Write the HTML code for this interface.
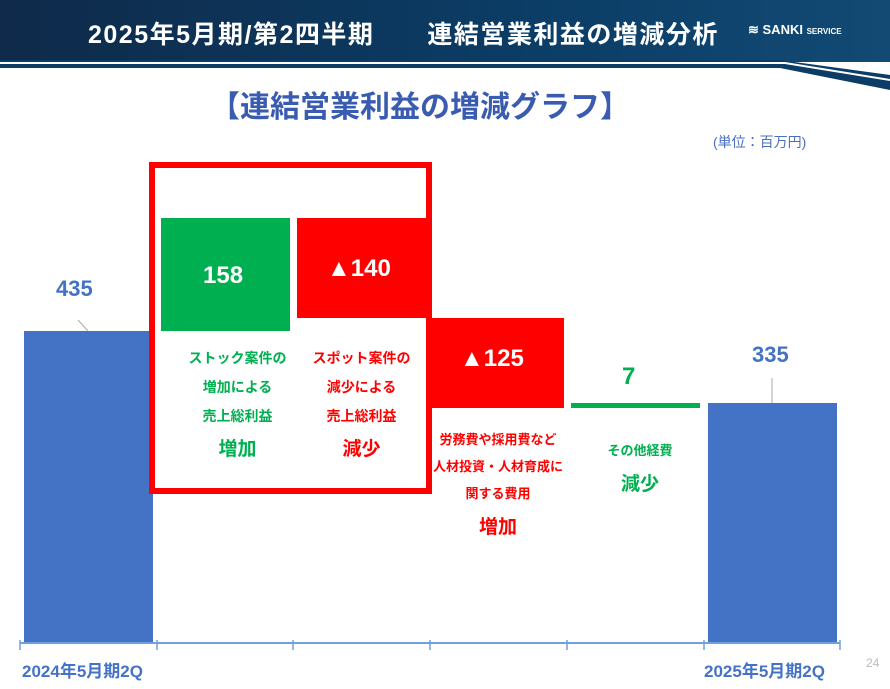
<!DOCTYPE html><html><head><meta charset="utf-8"><style>
body{margin:0;width:890px;height:689px;background:#fff;position:relative;overflow:hidden;font-family:"Liberation Sans","Noto Sans CJK JP",sans-serif;font-weight:bold}
.a{position:absolute}
.t{position:absolute;text-align:center;white-space:nowrap}
</style></head><body>
<div class="a" style="left:0;top:0;width:890px;height:62px;background:linear-gradient(90deg,#0f2a4a,#0b3d66 60%,#124a74)"></div>
<svg class="a" style="left:0;top:0" width="890" height="90"><polygon points="0,60 780,60 890,75 890,90 780,68 0,68" fill="#0b3d66"/><polyline points="0,63 785,63 890,80" stroke="#fff" stroke-width="2" fill="none"/></svg>
<div class="t" style="left:88px;top:15px;font-size:25px;color:#fff;letter-spacing:1.5px">2025年5月期/第2四半期　　連結営業利益の増減分析</div>
<div class="t" style="left:748px;top:22px;font-size:13px;color:#fff">≋ SANKI <span style="font-size:8px">SERVICE</span></div>
<div class="t" style="left:210px;top:82px;font-size:30px;color:#3a5cb0">【連結営業利益の増減グラフ】</div>
<div class="t" style="left:713px;top:132px;font-size:14px;color:#4a6fc0;font-weight:normal">(単位：百万円)</div>
<div class="a" style="left:24px;top:331px;width:129px;height:311px;background:#4472c4"></div>
<div class="a" style="left:708px;top:403px;width:129px;height:239px;background:#4472c4"></div>
<div class="a" style="left:161px;top:218px;width:129px;height:113px;background:#00b050"></div>
<div class="a" style="left:297px;top:218px;width:130px;height:100px;background:#ff0000"></div>
<div class="a" style="left:430px;top:318px;width:134px;height:90px;background:#ff0000"></div>
<div class="a" style="left:571px;top:403px;width:129px;height:5px;background:#00b050"></div>
<div class="a" style="left:149px;top:162px;width:271px;height:320px;border:6px solid #ff0000"></div>
<div class="a" style="left:20px;top:642px;width:820px;height:2px;background:#6fa0e0"></div>
<svg class="a" style="left:0;top:640" width="890" height="12"><g stroke="#6fa0e0" stroke-width="1.5"><line x1="20" y1="0" x2="20" y2="10"/><line x1="157" y1="0" x2="157" y2="10"/><line x1="293" y1="0" x2="293" y2="10"/><line x1="430" y1="0" x2="430" y2="10"/><line x1="567" y1="0" x2="567" y2="10"/><line x1="704" y1="0" x2="704" y2="10"/><line x1="840" y1="0" x2="840" y2="10"/></g></svg>
<svg class="a" style="left:0;top:0" width="890" height="689"><line x1="78" y1="320" x2="88" y2="331" stroke="#aaa"/><line x1="772" y1="378" x2="772" y2="403" stroke="#aaa"/></svg>
<div class="t" style="left:56px;top:276px;font-size:22px;color:#4472c4">435</div>
<div class="t" style="left:752px;top:342px;font-size:22px;color:#4472c4">335</div>
<div class="t" style="left:203px;top:262px;font-size:24px;color:#fff">158</div>
<div class="t" style="left:327px;top:255px;font-size:24px;color:#fff">▲140</div>
<div class="t" style="left:460px;top:345px;font-size:24px;color:#fff">▲125</div>
<div class="t" style="left:622px;top:363px;font-size:24px;color:#00b050">7</div>
<div class="t" style="left:170px;top:344px;width:135px;font-size:14px;line-height:29px;color:#00b050">ストック案件の<br>増加による<br>売上総利益</div>
<div class="t" style="left:170px;top:434px;width:135px;font-size:19px;color:#00b050">増加</div>
<div class="t" style="left:294px;top:344px;width:135px;font-size:14px;line-height:29px;color:#ff0000">スポット案件の<br>減少による<br>売上総利益</div>
<div class="t" style="left:294px;top:434px;width:135px;font-size:19px;color:#ff0000">減少</div>
<div class="t" style="left:428px;top:426px;width:140px;font-size:13px;line-height:27px;color:#ff0000">労務費や採用費など<br>人材投資・人材育成に<br>関する費用</div>
<div class="t" style="left:428px;top:512px;width:140px;font-size:19px;color:#ff0000">増加</div>
<div class="t" style="left:570px;top:440px;width:140px;font-size:13px;color:#00b050">その他経費</div>
<div class="t" style="left:570px;top:469px;width:140px;font-size:19px;color:#00b050">減少</div>
<div class="t" style="left:22px;top:657px;font-size:17px;color:#4472c4">2024年5月期2Q</div>
<div class="t" style="left:704px;top:657px;font-size:17px;color:#4472c4">2025年5月期2Q</div>
<div class="t" style="left:866px;top:656px;font-size:12px;color:#bbb;font-weight:normal">24</div>
</body></html>
